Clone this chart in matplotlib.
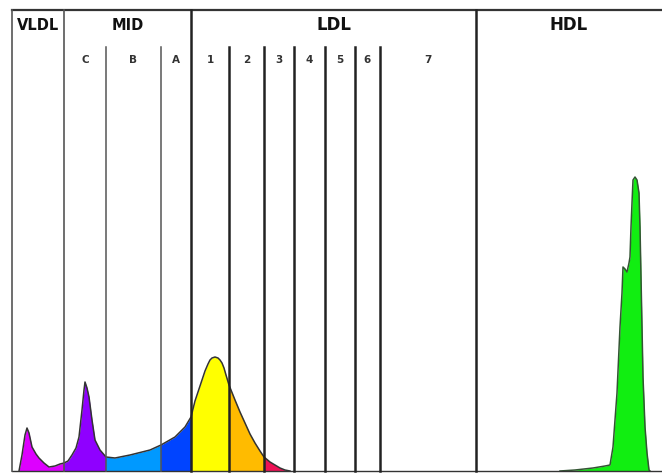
import numpy as np
import matplotlib
matplotlib.use("Agg")
import matplotlib.pyplot as plt
from matplotlib.patches import Rectangle

# main classes and their borders along the gel (migration position)
class_names = ["VLDL", "MID", "LDL", "HDL"]
class_edges = [12, 64, 191, 476, 662]

# subfractions
mid_names = ["C", "B", "A"]
mid_edges = [64, 106, 161, 191]
ldl_names = ["1", "2", "3", "4", "5", "6", "7"]
ldl_edges = [191, 229, 264, 294, 325, 355, 380, 476]

# fill colour for each band (VLDL, MID C/B/A, LDL 1..3)
band_edges = [12, 64, 106, 161, 191, 229, 264, 294]
band_colors = ["#dd00ff", "#8f00ff", "#0099ff", "#0044ff",
               "#ffff00", "#ffbb00", "#ee1155"]

# lipoprotein scan, VLDL through LDL
scan_x = [19, 22, 25, 27, 29, 32, 36, 39, 44, 49, 55, 60, 64, 68, 72, 76, 79,
          82, 84, 85, 87, 89, 92, 95, 100, 106, 115, 130, 150, 161, 175, 185,
          191, 193, 195, 198, 200, 203, 205, 208, 210, 212, 215, 218, 220,
          222, 224, 226, 229, 235, 240, 245, 250, 255, 260, 264, 270, 275,
          280, 285, 290]
scan_y = [0, 16, 36, 43, 38, 24, 17, 13, 8, 4, 5, 7, 8, 10, 16, 23, 34,
          61, 81, 89, 83, 74, 51, 31, 21, 14, 13, 16, 21, 26, 34, 44,
          54, 62, 70, 79, 85, 94, 100, 107, 111, 113, 114, 113, 111,
          108, 103, 96, 86, 71, 59, 48, 37, 28, 20, 14, 9, 6,
          3, 1, 0]

# HDL scan
hdl_x = [560, 575, 593, 605, 610, 613, 615, 617, 620, 622, 623, 625, 627,
         629, 630, 631, 632, 633, 635, 637, 639, 640, 641, 642, 643, 645,
         647, 649, 650]
hdl_y = [0, 1, 3, 5, 6, 24, 51, 78, 144, 178, 204, 202, 199,
         208, 214, 244, 268, 291, 294, 291, 278, 244, 194, 144, 94, 44,
         18, 1, 0]

fig = plt.figure(figsize=(6.62, 4.74), dpi=100)
ax = fig.add_axes([0, 0, 1, 1])
ax.set_xlim(0, 662)
ax.set_ylim(-3, 471)
ax.axis("off")

# colour each band by clipping the scan fill to that band
for i, c in enumerate(band_colors):
    poly = ax.fill_between(scan_x, scan_y, 0, color=c, lw=0, zorder=1)
    clip = Rectangle((band_edges[i], -5), band_edges[i + 1] - band_edges[i], 500,
                     transform=ax.transData)
    poly.set_clip_path(clip)
ax.plot(scan_x, scan_y, color="#333333", lw=1.1, zorder=2)

ax.fill_between(hdl_x, hdl_y, 0, color="#11ee11", lw=0, zorder=1)
ax.plot(hdl_x, hdl_y, color="#335533", lw=1.1, zorder=2)

top = 461
sub_top = 424

# frame
ax.plot([12, 662], [top, top], color="#333333", lw=1.6, zorder=3)
ax.plot([12, 662], [0, 0], color="#333333", lw=1.0, zorder=3)
ax.plot([12, 12], [0, top], color="#555555", lw=1.2, zorder=3)
ax.plot([64, 64], [0, top], color="#555555", lw=1.2, zorder=3)
for xe in [191, 476]:
    ax.plot([xe, xe], [0, top], color="#222222", lw=1.8, zorder=3)
for xe in mid_edges[1:-1]:
    ax.plot([xe, xe], [0, sub_top], color="#555555", lw=1.1, zorder=3)
for xe in ldl_edges[1:-1]:
    ax.plot([xe, xe], [0, sub_top], color="#222222", lw=1.8, zorder=3)

# labels
for i, name in enumerate(class_names):
    xc = (class_edges[i] + class_edges[i + 1]) / 2
    size = 12 if name in ("LDL", "HDL") else 10.5
    ax.text(xc, 446, name, ha="center", va="center", fontsize=size,
            fontweight="bold", color="#111111")

for names, edges in [(mid_names, mid_edges), (ldl_names, ldl_edges)]:
    for i, name in enumerate(names):
        xc = (edges[i] + edges[i + 1]) / 2
        ax.text(xc, 411, name, ha="center", va="center", fontsize=7.5,
                fontweight="semibold", color="#333333")

fig.savefig("out.png", dpi=100)
